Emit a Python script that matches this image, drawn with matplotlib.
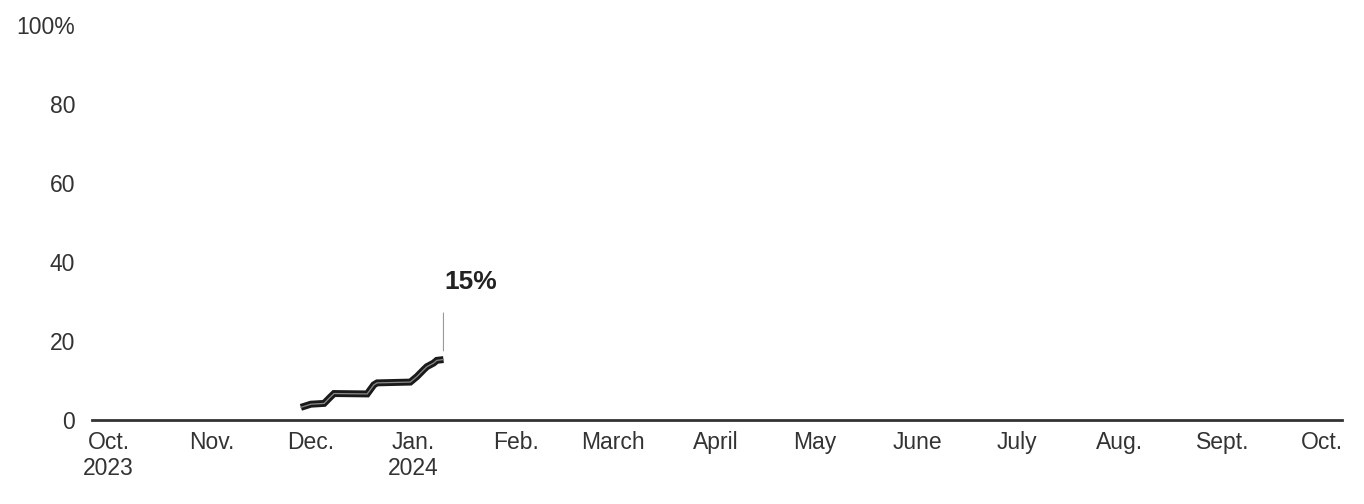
import datetime as dt

import matplotlib
matplotlib.use("Agg")
import matplotlib.pyplot as plt

# ── Data ───────────────────────────────────────────────────────────────
dates = [
    dt.date(2023, 11, 28), dt.date(2023, 12, 1), dt.date(2023, 12, 5),
    dt.date(2023, 12, 7), dt.date(2023, 12, 8), dt.date(2023, 12, 18),
    dt.date(2023, 12, 20), dt.date(2023, 12, 21), dt.date(2023, 12, 31),
    dt.date(2024, 1, 2), dt.date(2024, 1, 4), dt.date(2024, 1, 5),
    dt.date(2024, 1, 7), dt.date(2024, 1, 8), dt.date(2024, 1, 10),
]
share = [3.2, 4.0, 4.2, 5.9, 6.7, 6.6, 8.9, 9.4, 9.6, 11.0, 12.7, 13.5,
         14.4, 15.1, 15.3]

month_ticks = [dt.date(2023, m, 1) for m in (10, 11, 12)] + \
              [dt.date(2024, m, 1) for m in range(1, 11)]
month_labels = ["Oct.\n2023", "Nov.", "Dec.", "Jan.\n2024", "Feb.", "March",
                "April", "May", "June", "July", "Aug.", "Sept.", "Oct."]
y_ticks = [0, 20, 40, 60, 80, 100]
y_labels = ["0", "20", "40", "60", "80", "100%"]
end_label = "15%"

plt.rcParams["font.family"] = ["Liberation Sans", "DejaVu Sans"]
TEXT = "#333333"

fig = plt.figure(figsize=(13.64, 5.04), dpi=100)
ax = fig.add_axes([92 / 1364, 84 / 504, 1250 / 1364, 395 / 504])

ax.plot(dates, share, color="#1a1a1a", lw=5.0, solid_capstyle="butt",
        solid_joinstyle="miter", zorder=3)
ax.plot(dates, share, color="#8a8a8a", lw=0.9, solid_joinstyle="miter",
        zorder=4)

ax.set_xlim(dt.date(2023, 9, 26), dt.date(2024, 10, 7))
ax.set_ylim(0, 100)

for side in ("top", "right", "left"):
    ax.spines[side].set_visible(False)
ax.spines["bottom"].set_color("#333333")
ax.spines["bottom"].set_linewidth(2)

ax.set_yticks(y_ticks)
ax.set_yticklabels(y_labels)
ax.set_xticks(month_ticks)
ax.set_xticklabels(month_labels)
ax.tick_params(axis="y", length=0, pad=12, labelsize=16.5, labelcolor=TEXT)
ax.tick_params(axis="x", length=0, pad=8, labelsize=16.5, labelcolor=TEXT)
for lab in ax.get_xticklabels():
    lab.set_linespacing(1.15)

# ── End label with leader line ─────────────────────────────────────────
ax.annotate("", xy=(dates[-1], share[-1] + 1.5),
            xytext=(dates[-1], share[-1] + 12.5),
            arrowprops=dict(arrowstyle="-", color="#999999", lw=0.8))
ax.annotate(end_label, xy=(dates[-1], share[-1] + 12.5), xytext=(20, 12),
            textcoords="offset points", ha="center", va="bottom",
            fontsize=19, fontweight="bold", color="#222222")

fig.savefig("out.png", dpi=100, facecolor="white")
